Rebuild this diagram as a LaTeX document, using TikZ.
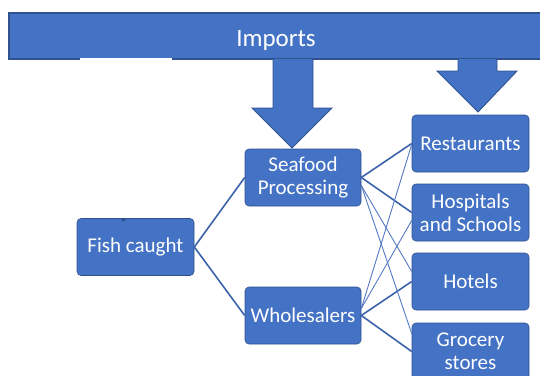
\documentclass[tikz,border=0pt]{standalone}
\usepackage{fontspec}
\setmainfont{Carlito}
\usetikzlibrary{calc}
\definecolor{boxfill}{HTML}{4472C4}
\definecolor{boxline}{HTML}{2F528F}
\definecolor{thickc}{HTML}{3B62AA}
\definecolor{thinc}{HTML}{5479C2}
\tikzset{
  box/.style={draw=boxline, line width=0.6pt, fill=boxfill, rounded corners=4pt,
    minimum width=117pt, minimum height=57pt, inner sep=0pt, align=center,
    text=white, font=\fontsize{21}{23}\selectfont},
  bigarrow/.style={draw=boxline, line width=0.9pt, fill=boxfill, line join=miter},
  thickline/.style={draw=thickc, line width=1.6pt},
  thinline/.style={draw=thinc, line width=0.9pt}
}
\begin{document}
\begin{tikzpicture}[x=1pt,y=-1pt]
\useasboundingbox (0,0) rectangle (540,375);
% Imports bar
\draw[draw=boxline, line width=1.4pt, fill=boxfill] (9,13) rectangle (548,59);
\draw[white, line width=1.2pt] (80,59) -- (172,59);
\node[text=white, font=\fontsize{25}{28}\selectfont] (imp) at (276,40.5) {Imports};
% big arrows
\draw[bigarrow] (273,59) -- (273,108) -- (252,108) -- (292,148) -- (332,108) -- (313,108) -- (313,59);
\draw[bigarrow] (458,59) -- (458,71) -- (437,71) -- (478,112) -- (517,71) -- (497,71) -- (497,59);
% nodes
\node[box] (fish) at (135.5,247) {Fish caught};
\fill[boxline] (120,218) -- (127,218) -- (123.5,222) -- cycle;
\node[box, minimum width=116pt] (sea) at (303,177.5) {Seafood\\Processing};
\node[box, minimum width=116pt] (whole) at (303,315.5) {Wholesalers};
\node[box] (rest) at (470.5,143.5) {Restaurants};
\node[box] (hosp) at (470.5,212.5) {Hospitals\\and Schools};
\node[box] (hot) at (470.5,281.5) {Hotels};
\node[box] (groc) at (470.5,351.5) {Grocery\\stores};
% connectors
\draw[thickline] (fish.east) -- (sea.west);
\draw[thickline] (fish.east) -- (whole.west);
\draw[thickline] (sea.east) -- (rest.west);
\draw[thickline] (sea.east) -- (hosp.west);
\draw[thickline] (whole.east) -- (hot.west);
\draw[thickline] (whole.east) -- (groc.west);
\coordinate (seat) at ($(sea.east)+(0,8)$);
\coordinate (wet) at ($(whole.east)+(0,-7)$);
\draw[thinline] (seat) -- ($(hot.west)+(0,-10)$);
\draw[thinline] (seat) -- ($(groc.west)+(0,-18)$);
\draw[thinline] (wet) -- ($(rest.west)+(0,1)$);
\draw[thinline] (wet) -- ($(hosp.west)+(0,8)$);
\end{tikzpicture}
\end{document}
